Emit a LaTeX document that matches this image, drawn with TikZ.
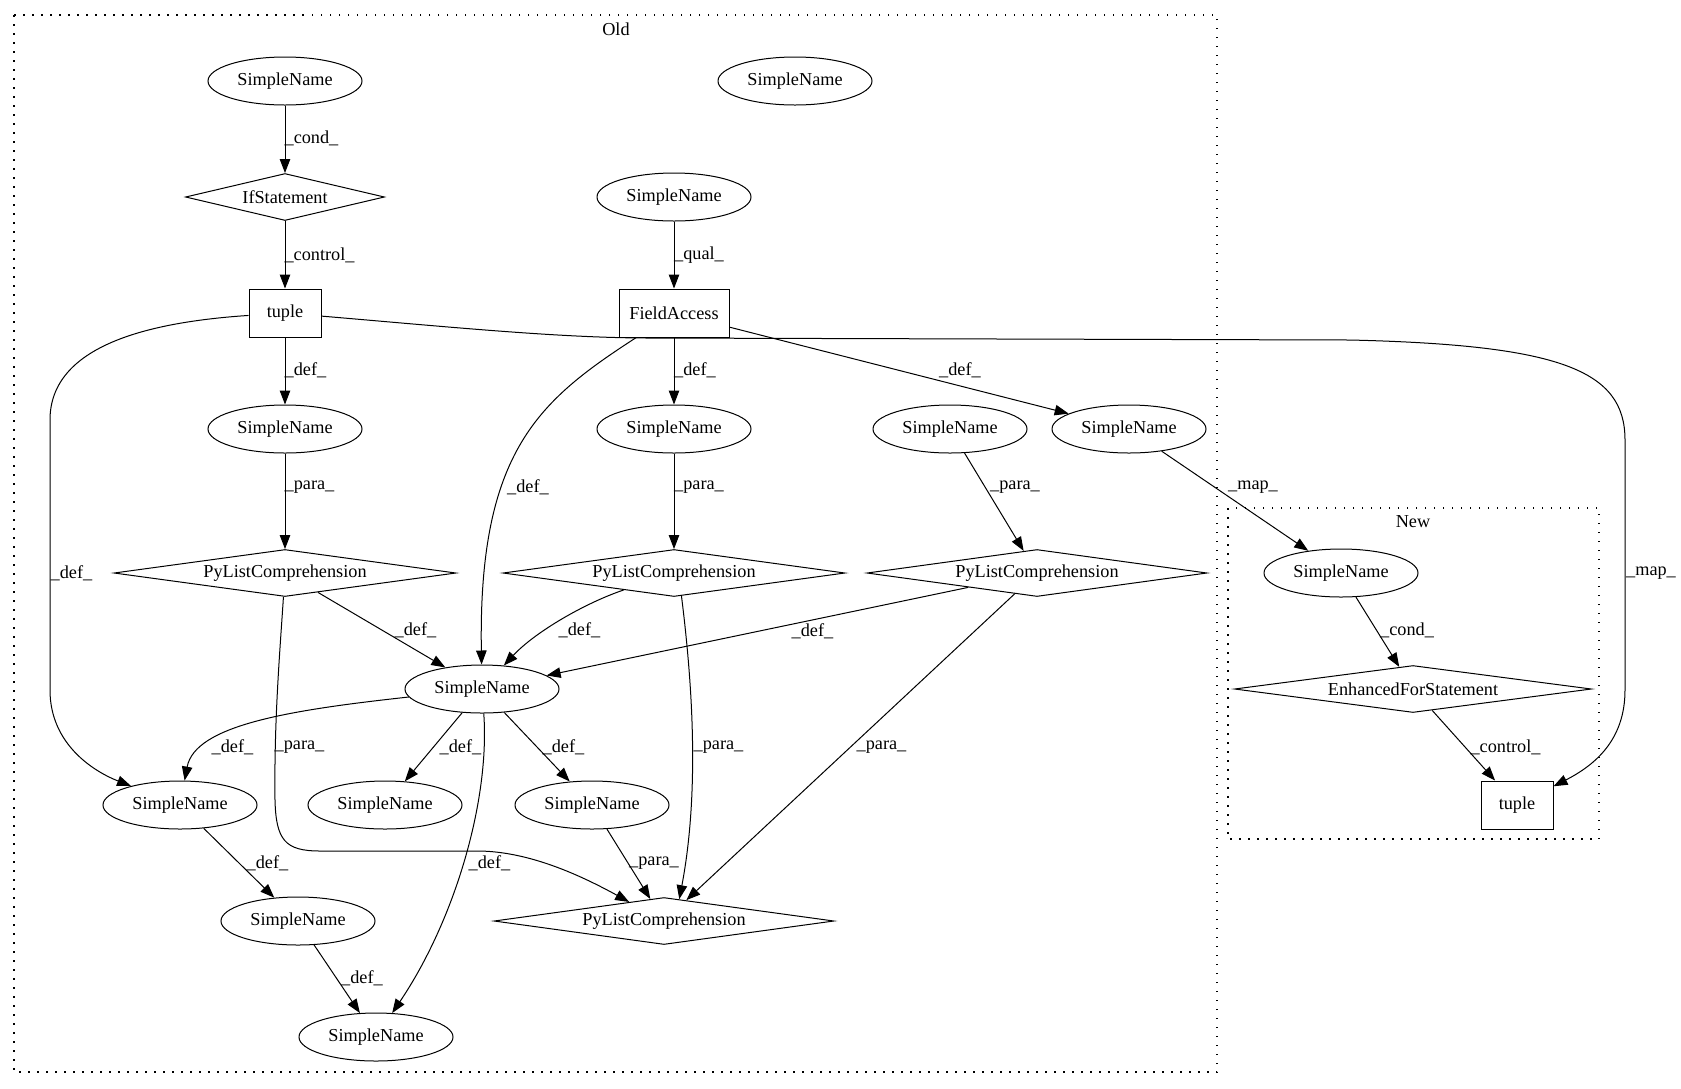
\documentclass[tikz,border=0pt]{standalone}
\usepackage{fontspec}
\setmainfont{Liberation Serif}
\usepackage{tikz}
\usetikzlibrary{positioning}
\usetikzlibrary{shapes.geometric,arrows.meta}

\begin{document}
\begin{tikzpicture}[x=1pt, y=-1pt, line width=1pt,
    font=\fontsize{18.25}{22}\selectfont,
    >={Triangle[length=14pt,width=10.5pt]},
    sn/.style = {draw, ellipse, inner sep=0pt, minimum width=154pt, minimum height=48pt},
    dia/.style = {draw, diamond, shape aspect=7, inner sep=0pt, minimum height=47pt},
    box/.style = {draw, rectangle, inner sep=0pt, minimum height=48pt},
    lab/.style = {inner sep=0pt},
    cluster/.style = {line width=1.2pt, dash pattern=on 1.5pt off 7.5pt}]
            \useasboundingbox (0,0) rectangle (1681,1088);
            % Clusters
            \draw[cluster] (14,15) rectangle (1217,1072);
            \node (old) at (616,29) {Old};
            \draw[cluster] (1228,508) rectangle (1599,839);
            \node (new) at (1413,522) {New};
            % Nodes
            \node[sn] (1) at (285,81) {SimpleName};
            \node[sn] (2) at (795,81) {SimpleName};
            \node[dia, minimum width=199pt] (3) at (285,197) {IfStatement};
            \node[sn] (4) at (674,197) {SimpleName};
            \node[box, minimum width=72pt] (5) at (285,313) {tuple};
            \node[box, minimum width=110pt] (6) at (674,313) {FieldAccess};
            \node[sn] (7) at (285,429) {SimpleName};
            \node[sn] (8) at (674,429) {SimpleName};
            \node[sn] (9) at (950,429) {SimpleName};
            \node[sn] (10) at (1129,429) {SimpleName};
            \node[dia, minimum width=342pt] (11) at (285,573) {PyListComprehension};
            \node[dia, minimum width=342pt] (12) at (674,573) {PyListComprehension};
            \node[dia, minimum width=340pt] (13) at (1037,573) {PyListComprehension};
            \node[sn] (14) at (1341,573) {SimpleName};
            \node[sn] (15) at (482,689) {SimpleName};
            \node[dia, minimum width=357pt] (16) at (1413,689) {EnhancedForStatement};
            \node[sn] (17) at (180,805) {SimpleName};
            \node[sn] (18) at (385,805) {SimpleName};
            \node[sn] (19) at (592,805) {SimpleName};
            \node[box, minimum width=72pt] (20) at (1517,805) {tuple};
            \node[sn] (21) at (298,921) {SimpleName};
            \node[dia, minimum width=340pt] (22) at (664,921) {PyListComprehension};
            \node[sn] (23) at (376,1037) {SimpleName};
            % Edges
            \draw[->] (1) -- (3);
            \draw[->] (3) -- (5);
            \draw[->] (4) -- (6);
            \draw[->] (5) -- (7);
            \draw[->] (6) -- (8);
            \draw[->] (6) -- (10);
            \draw[->] (5) .. controls (150,322) and (50,345) .. (50,420) -- (50,690) .. controls (50,745) and (95,772) .. (17);
            \draw[->] (5) .. controls (450,327) and (560,338) .. (650,338) -- (1350,340) .. controls (1560,345) and (1625,370) .. (1625,440) -- (1625,690) .. controls (1625,740) and (1595,765) .. (20);
            \draw[->] (6) .. controls (540,400) and (478,450) .. (15);
            \draw[->] (7) -- (11);
            \draw[->] (8) -- (12);
            \draw[->] (9) -- (13);
            \draw[->] (10) -- (14);
            \draw[->] (11) -- (15);
            \draw[->] (12) .. controls (585,603) and (535,632) .. (15);
            \draw[->] (13) -- (15);
            \draw[->] (11) .. controls (280,650) and (274,720) .. (275,800) .. controls (276,840) and (285,851) .. (320,851) -- (480,851) .. controls (530,852) and (580,875) .. (22);
            \draw[->] (12.-72) .. controls (692,680) and (700,790) .. (22.55);
            \draw[->] (13) -- (22);
            \draw[->] (14) -- (16);
            \draw[->] (15) .. controls (290,710) and (195,725) .. (17);
            \draw[->] (15) -- (18);
            \draw[->] (15) -- (19);
            \draw[->] (15) .. controls (490,800) and (455,920) .. (23);
            \draw[->] (16) -- (20);
            \draw[->] (17) -- (21);
            \draw[->] (19) -- (22);
            \draw[->] (21) -- (23);
            % Labels
            \node[lab] (l1) at (311.5,138) {\_cond\_};
            \node[lab] (l2) at (319.5,255) {\_control\_};
            \node[lab] (l3) at (699,255) {\_qual\_};
            \node[lab] (l4) at (305.5,370) {\_def\_};
            \node[lab] (l5) at (695,370) {\_def\_};
            \node[lab] (l6) at (960,370) {\_def\_};
            \node[lab] (l7) at (71.5,573) {\_def\_};
            \node[lab] (l8) at (1651,573) {\_map\_};
            \node[lab] (l9) at (528,487) {\_def\_};
            \node[lab] (l10) at (309.5,487) {\_para\_};
            \node[lab] (l11) at (699,487) {\_para\_};
            \node[lab] (l12) at (1015,487) {\_para\_};
            \node[lab] (l13) at (1253,487) {\_map\_};
            \node[lab] (l14) at (415.5,630) {\_def\_};
            \node[lab] (l15) at (579.5,630) {\_def\_};
            \node[lab] (l16) at (812.5,631) {\_def\_};
            \node[lab] (l17) at (299.5,747) {\_para\_};
            \node[lab] (l18) at (718.5,747) {\_para\_};
            \node[lab] (l19) at (881.5,747) {\_para\_};
            \node[lab] (l20) at (232.5,747) {\_def\_};
            \node[lab] (l21) at (460.5,747) {\_def\_};
            \node[lab] (l22) at (563.5,747) {\_def\_};
            \node[lab] (l23) at (489.5,863) {\_def\_};
            \node[lab] (l24) at (654,863) {\_para\_};
            \node[lab] (l25) at (267.5,863) {\_def\_};
            \node[lab] (l26) at (362,978) {\_def\_};
            \node[lab] (l27) at (1407,630) {\_cond\_};
            \node[lab] (l28) at (1505.5,747) {\_control\_};
            \end{tikzpicture}
\end{document}
